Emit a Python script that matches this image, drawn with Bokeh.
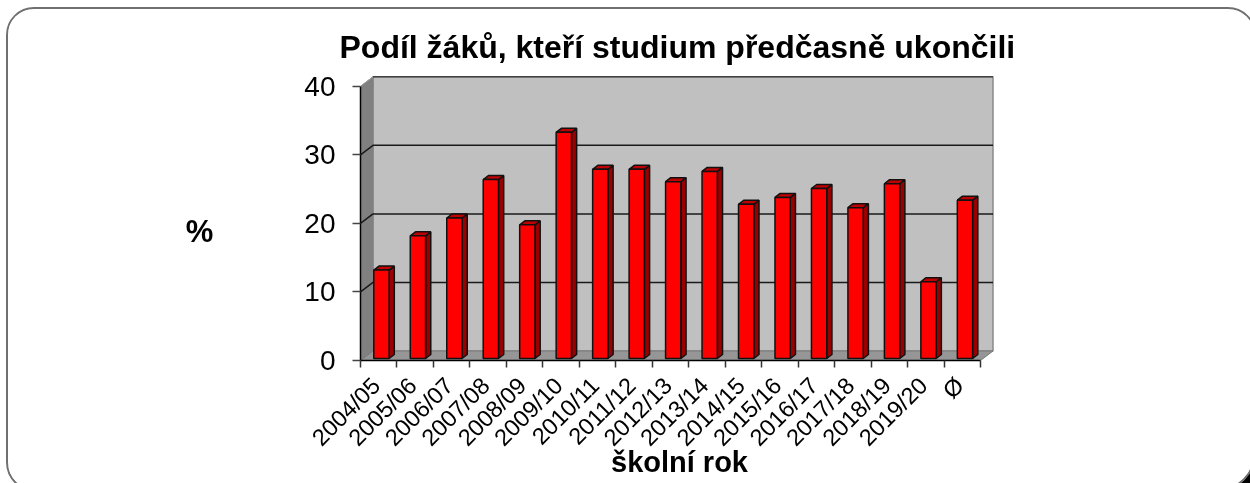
import math
from bokeh.embed import file_html
from bokeh.resources import INLINE
from bokeh.plotting import figure
from bokeh.models import FixedTicker, Label, Range1d

# ---- data ----
years = ["2004/05", "2005/06", "2006/07", "2007/08", "2008/09", "2009/10", "2010/11", "2011/12",
         "2012/13", "2013/14", "2014/15", "2015/16", "2016/17", "2017/18", "2018/19", "2019/20", "Ø"]
shares = [12.9, 17.9, 20.5, 26.1, 19.5, 33.0, 27.6, 27.6, 25.8, 27.3, 22.5, 23.5, 24.8, 22.0, 25.5, 11.2, 23.1]
y_ticks = [0, 10, 20, 30, 40]

# ---- scale of the picture ----
PX_X = 620 / 17          # pixels per category
PX_Y = 6.83              # pixels per percentage point
WALL_DX, WALL_DY = 12.5 / PX_X, 9.5 / PX_Y      # depth of the 3D box
SIDE_DX, SIDE_DY = 5.2 / PX_X, 4.0 / PX_Y       # depth of a bar
BAR_X0, BAR_W = 13.3 / PX_X, 15.3 / PX_X        # offset and width of a bar
BAR_Y0 = 2.0 / PX_Y                             # bar foot above the front floor edge
LABEL_POS = 0.43                                # where a year label hangs inside its category

# the figure is the rounded slide itself: its box runs past the window's right and lower edges
HOST_X, HOST_Y = 6, 7
BORDER = 2
W, H = 1246, 481
ORIGIN_X, ORIGIN_Y = HOST_X + BORDER, HOST_Y + BORDER
F_L, F_R = 360 - ORIGIN_X, ORIGIN_X + W - 1000 + 2 * BORDER
F_T, F_B = 70 - ORIGIN_Y, ORIGIN_Y + H - 359


def px_x(sx):
    return (sx - 360) / PX_X


def px_y(sy):
    return (359 - sy) / PX_Y


p = figure(width=W, height=H, output_backend="svg", toolbar_location=None,
           x_range=Range1d(0, 640 / PX_X),
           y_range=Range1d(0, 289 / PX_Y),
           min_border_left=F_L, min_border_right=F_R, min_border_top=F_T, min_border_bottom=F_B,
           background_fill_color=None, border_fill_color="white", outline_line_color=None,
           title="Podíl žáků, kteří studium předčasně ukončili")
p.styles = {
    "position": "fixed", "left": f"{HOST_X}px", "top": f"{HOST_Y}px",
    "box-sizing": "content-box",
    "border": f"{BORDER}px solid #707070",
    "border-radius": "28px 28px 40px 30px",
    "overflow": "hidden",
    "box-shadow": "2px 2px 0 0 black, 20px 20px 0 -18px black",
}
p.grid.visible = False

p.title.align = "left"
p.title.offset = -21
p.title.text_font = "Liberation Sans"
p.title.text_font_size = "32px"
p.title.text_font_style = "bold"
p.title.text_color = "black"
p.title.standoff = 11

# ---- 3D box ----
n = len(years)
top = y_ticks[-1]
p.patch([WALL_DX, n + WALL_DX, n + WALL_DX, WALL_DX], [WALL_DY, WALL_DY, top + WALL_DY, top + WALL_DY],
        fill_color="#c0c0c0", line_color="#8a8a8a", line_width=1.5)
p.patch([0, WALL_DX, WALL_DX, 0], [0, WALL_DY, top + WALL_DY, top], fill_color="#808080", line_color="#808080")
p.patch([0, n, n + WALL_DX, WALL_DX], [0, 0, WALL_DY, WALL_DY], fill_color="#969696", line_color="#777777")
p.line([WALL_DX, n + WALL_DX], [top + WALL_DY, top + WALL_DY], line_color="#404040", line_width=1.5)

# gridlines: along the left wall, then along the back wall
grid_values = y_ticks[1:-1]
p.multi_line([[0, WALL_DX, n + WALL_DX] for _ in grid_values],
             [[v, v + WALL_DY, v + WALL_DY] for v in grid_values], line_color="#1a1a1a", line_width=1.5)
p.line([0, WALL_DX], [top, top + WALL_DY], line_color="#9a9a9a", line_width=1)

# ---- bars ----
lefts = [i + BAR_X0 for i in range(n)]
rights = [x + BAR_W for x in lefts]
tops = [v + BAR_Y0 for v in shares]
p.patches([[r, r + SIDE_DX, r + SIDE_DX, r] for r in rights],
          [[BAR_Y0, BAR_Y0 + SIDE_DY, t + SIDE_DY, t] for t in tops],
          fill_color="#990000", line_color="#111111", line_width=1.5)
p.patches([[l, l + SIDE_DX, r + SIDE_DX, r] for l, r in zip(lefts, rights)],
          [[t, t + SIDE_DY, t + SIDE_DY, t] for t in tops],
          fill_color="#c00000", line_color="#111111", line_width=1.5)
p.quad(left=lefts, right=rights, bottom=BAR_Y0, top=tops, fill_color="#ff0000", line_color="#111111", line_width=1.5)

# ---- axes ----
xa = p.xaxis[0]
xa.bounds = (0, n)
xa.ticker = FixedTicker(ticks=[i + LABEL_POS for i in range(n)], minor_ticks=list(range(n + 1)))
xa.major_label_overrides = {i + LABEL_POS: y for i, y in enumerate(years)}
xa.major_label_orientation = math.pi / 4
xa.major_label_text_font = "Liberation Sans"
xa.major_label_text_font_size = "23.5px"
xa.major_label_text_color = "black"
xa.major_label_standoff = 14
xa.major_tick_in = 0
xa.major_tick_out = 0
xa.minor_tick_in = 0
xa.minor_tick_out = 7
xa.minor_tick_line_color = "#333333"
xa.minor_tick_line_width = 1.5
xa.axis_line_color = "black"
xa.axis_line_width = 1.5

ya = p.yaxis[0]
ya.bounds = (0, top)
ya.ticker = FixedTicker(ticks=y_ticks, minor_ticks=[])
ya.major_label_text_font = "Liberation Sans"
ya.major_label_text_font_size = "28px"
ya.major_label_text_color = "black"
ya.major_label_standoff = 17
ya.major_tick_in = 0
ya.major_tick_out = 8
ya.major_tick_line_color = "#444444"
ya.major_tick_line_width = 1.5
ya.axis_line_color = "black"
ya.axis_line_width = 1.5

# ---- axis titles (in the side panels, where they are not clipped to the frame) ----
p.add_layout(Label(x=px_x(199), y=px_y(230), text="%", text_font="Liberation Sans", text_color="black",
                   text_font_size="31px", text_font_style="bold", text_align="center", text_baseline="middle"), "left")
p.add_layout(Label(x=px_x(679), y=px_y(460), text="školní rok", text_font="Liberation Sans", text_color="black",
                   text_font_size="29px", text_font_style="bold", text_align="center", text_baseline="middle"), "below")

open("out.html", "w").write(file_html(p, INLINE))
